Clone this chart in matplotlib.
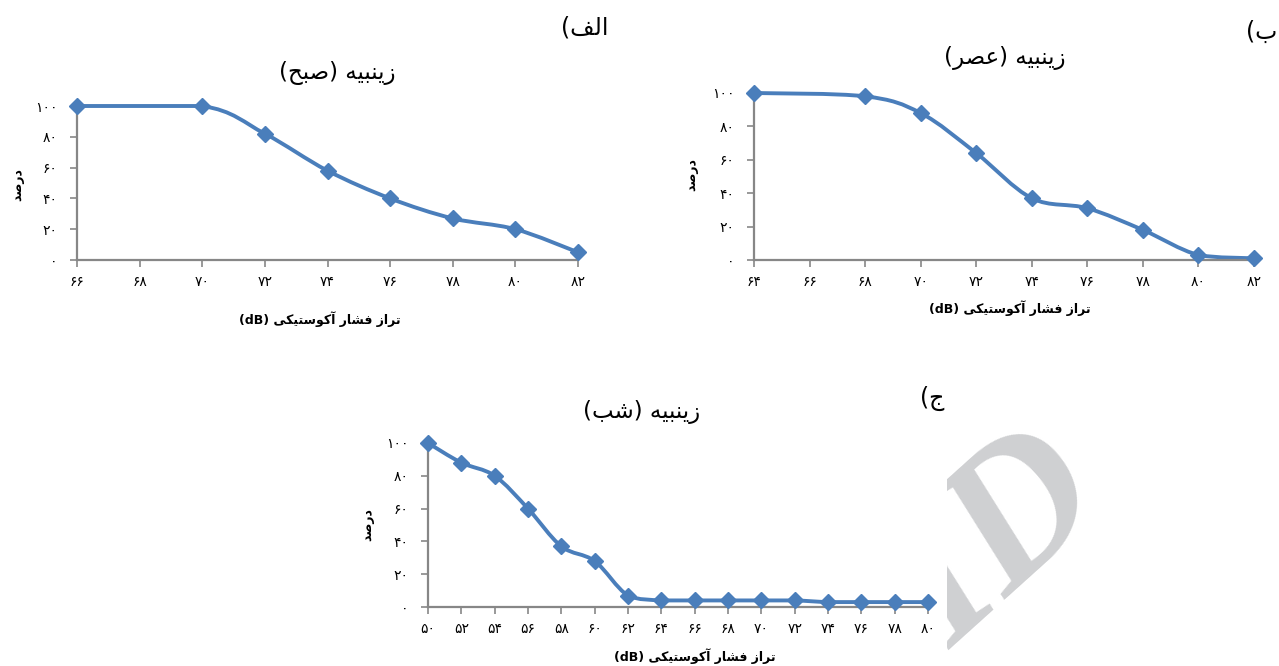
import numpy as np
import matplotlib
matplotlib.use('Agg')
import matplotlib.pyplot as plt
from matplotlib.path import Path
from matplotlib.patches import PathPatch

# data
x_sobh = [66, 70, 72, 74, 76, 78, 80, 82]
y_sobh = [100, 100, 82, 58, 40, 27, 20, 5]
ticks_sobh = [66, 68, 70, 72, 74, 76, 78, 80, 82]

x_asr = [64, 68, 70, 72, 74, 76, 78, 80, 82]
y_asr = [100, 98, 88, 64, 37, 31, 18, 3, 1]
ticks_asr = [64, 66, 68, 70, 72, 74, 76, 78, 80, 82]

x_shab = [50, 52, 54, 56, 58, 60, 62, 64, 66, 68, 70, 72, 74, 76, 78, 80]
y_shab = [100, 88, 80, 60, 37, 28, 7, 4, 4, 4, 4, 4, 3, 3, 3, 3]
ticks_shab = x_shab

y_ticks = [0, 20, 40, 60, 80, 100]

title_sobh = 'زینبیه (صبح)'
title_asr = 'زینبیه (عصر)'
title_shab = 'زینبیه (شب)'
ylabel_fa = 'درصد'
xlabel_fa = 'تراز فشار آکوستیکی'
panel_labels = ['الف)', 'ب)', 'ج)']

BLUE = '#4a7ebb'
GREY = '#878787'

# matplotlib has no Arabic shaping, so pick presentation forms by hand
# (isolated, final, initial, medial)
FORMS = {
    'ا': ('\uFE8D', '\uFE8E', None, None),
    'آ': ('\uFE81', '\uFE82', None, None),
    'ب': ('\uFE8F', '\uFE90', '\uFE91', '\uFE92'),
    'ت': ('\uFE95', '\uFE96', '\uFE97', '\uFE98'),
    'ج': ('\uFE9D', '\uFE9E', '\uFE9F', '\uFEA0'),
    'ح': ('\uFEA1', '\uFEA2', '\uFEA3', '\uFEA4'),
    'د': ('\uFEA9', '\uFEAA', None, None),
    'ر': ('\uFEAD', '\uFEAE', None, None),
    'ز': ('\uFEAF', '\uFEB0', None, None),
    'س': ('\uFEB1', '\uFEB2', '\uFEB3', '\uFEB4'),
    'ش': ('\uFEB5', '\uFEB6', '\uFEB7', '\uFEB8'),
    'ص': ('\uFEB9', '\uFEBA', '\uFEBB', '\uFEBC'),
    'ع': ('\uFEC9', '\uFECA', '\uFECB', '\uFECC'),
    'ف': ('\uFED1', '\uFED2', '\uFED3', '\uFED4'),
    'ل': ('\uFEDD', '\uFEDE', '\uFEDF', '\uFEE0'),
    'ن': ('\uFEE5', '\uFEE6', '\uFEE7', '\uFEE8'),
    'ه': ('\uFEE9', '\uFEEA', '\uFEEB', '\uFEEC'),
    'و': ('\uFEED', '\uFEEE', None, None),
    'ی': ('\uFBFC', '\uFBFD', '\uFBFE', '\uFBFF'),
    'ک': ('\uFB8E', '\uFB8F', '\uFB90', '\uFB91'),
}


def fa(s):
    out = []
    for i, c in enumerate(s):
        if c not in FORMS:
            out.append(c)
            continue
        iso, fin, ini, med = FORMS[c]
        prev = s[i - 1] if i > 0 else ''
        nxt = s[i + 1] if i + 1 < len(s) else ''
        jp = prev in FORMS and FORMS[prev][2] is not None
        jn = nxt in FORMS and ini is not None
        if jp and jn:
            out.append(med)
        elif jp:
            out.append(fin)
        elif jn:
            out.append(ini)
        else:
            out.append(iso)
    vis = ''.join(reversed(out))
    return vis.translate(str.maketrans('()', ')('))


def fa_num(v):
    return str(v).translate(str.maketrans('0123456789', '۰۱۲۳۴۵۶۷۸۹'))


def smooth_path(xs, ys):
    # Excel style smoothed line: cubic bezier through the points,
    # control points kept inside each segment's y range (no overshoot)
    p = np.column_stack([xs, ys]).astype(float)
    verts = [p[0]]
    codes = [Path.MOVETO]
    n = len(p)
    for i in range(n - 1):
        p0 = p[i - 1] if i > 0 else p[i]
        p3 = p[i + 2] if i + 2 < n else p[i + 1]
        c1 = p[i] + (p[i + 1] - p0) / 6
        c2 = p[i + 1] - (p3 - p[i]) / 6
        lo, hi = min(p[i][1], p[i + 1][1]), max(p[i][1], p[i + 1][1])
        c1[1] = np.clip(c1[1], lo, hi)
        c2[1] = np.clip(c2[1], lo, hi)
        verts += [c1, c2, p[i + 1]]
        codes += [Path.CURVE4] * 3
    return Path(verts, codes)


W, H = 1279, 666
fig = plt.figure(figsize=(W / 100, H / 100), dpi=100)
plt.rcParams['font.family'] = ['DejaVu Sans']


def panel(box, xs, ys, xticks, title, title_xy, ylab_xy, xlab_xy):
    l, r, t, b = box
    ax = fig.add_axes([l / W, 1 - b / H, (r - l) / W, (b - t) / H])
    ax.add_patch(PathPatch(smooth_path(xs, ys), fill=False, ec=BLUE, lw=2.8,
                           capstyle='round', joinstyle='round', clip_on=False, zorder=2))
    ax.plot(xs, ys, 'D', ms=8, color=BLUE, clip_on=False, zorder=3)
    ax.set_xlim(xticks[0], xticks[-1])
    ax.set_ylim(0, 100)
    ax.set_xticks(xticks)
    ax.set_xticklabels([fa_num(v) for v in xticks])
    ax.set_yticks(y_ticks)
    ax.set_yticklabels([fa_num(v) for v in y_ticks])
    for s in ['top', 'right']:
        ax.spines[s].set_visible(False)
    for s in ['left', 'bottom']:
        ax.spines[s].set_color(GREY)
        ax.spines[s].set_linewidth(1.6)
    ax.tick_params(axis='both', colors=GREY, length=5, width=1.2, labelsize=10,
                   labelcolor='black')
    ax.tick_params(axis='y', pad=9)
    ax.tick_params(axis='x', pad=6)
    fig.text(title_xy[0] / W, 1 - title_xy[1] / H, fa(title), fontsize=16.5,
             ha='center', va='center')
    fig.text(ylab_xy[0] / W, 1 - ylab_xy[1] / H, fa(ylabel_fa), fontsize=9,
             weight='bold', rotation=90, ha='center', va='center')
    fig.text(xlab_xy[0] / W, 1 - xlab_xy[1] / H, '(dB) ' + fa(xlabel_fa),
             fontsize=9, weight='bold', ha='center', va='center')
    return ax


panel((77, 578, 106, 260), x_sobh, y_sobh, ticks_sobh, title_sobh,
      (337, 73), (18, 185), (320, 319))
panel((754, 1254, 93, 260), x_asr, y_asr, ticks_asr, title_asr,
      (1005, 58), (692, 175), (1010, 308))
panel((428, 928, 443, 607), x_shab, y_shab, ticks_shab, title_shab,
      (642, 412), (368, 525), (695, 656))

fig.text(585 / W, 1 - 27 / H, fa(panel_labels[0]), fontsize=17, ha='center', va='center')
fig.text(1262 / W, 1 - 32 / H, fa(panel_labels[1]), fontsize=17, ha='center', va='center')
fig.text(932 / W, 1 - 398 / H, fa(panel_labels[2]), fontsize=17, ha='center', va='center')

# grey watermark, cut on its left side
wm = fig.add_axes([947 / W, 0, (1130 - 947) / W, (666 - 420) / H])
wm.set_xlim(0, 1)
wm.set_ylim(0, 1)
wm.axis('off')
wm.text(0.29, 0.50, 'ID', family='Liberation Serif', style='italic', weight='bold',
        fontsize=140, color='#cfd0d2', rotation=42, ha='center', va='center',
        clip_on=True, rotation_mode='anchor')

fig.savefig('out.png', dpi=100)
